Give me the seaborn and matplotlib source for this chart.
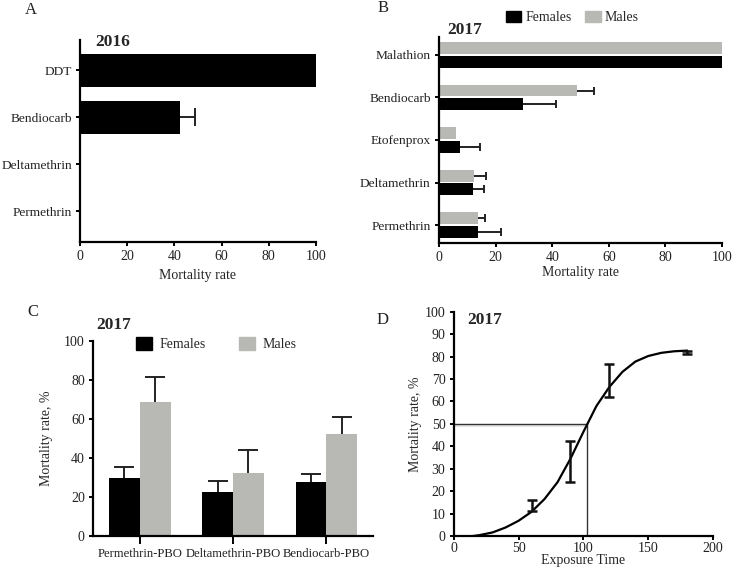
import matplotlib
matplotlib.use("Agg")
import matplotlib.pyplot as plt
import matplotlib.patches as mpatches
import numpy as np
import pandas as pd
import seaborn as sns

# ---- data ----
# A: 2016, females only
a_insect = ["DDT", "Bendiocarb", "Deltamethrin", "Permethrin"]
a_rate = [100, 42.4, 0, 0]
a_err = [0, 6.3, 0, 0]

# B: 2017 by sex
b_insect = ["Malathion", "Bendiocarb", "Etofenprox", "Deltamethrin", "Permethrin"]
b_fem = [100, 29.8, 7.4, 12.0, 13.9]
b_fem_err = [0, 11.4, 7.2, 3.8, 8.1]
b_male = [100, 48.8, 5.9, 12.2, 13.9]
b_male_err = [0, 6.0, 0, 4.4, 2.4]

# C: 2017 synergist assays
c_insect = ["Permethrin-PBO", "Deltamethrin-PBO", "Bendiocarb-PBO"]
c_fem = [29.8, 22.3, 27.7]
c_fem_err = [5.8, 5.8, 4.3]
c_male = [68.7, 32.5, 52.3]
c_male_err = [12.6, 11.5, 8.9]

# D: time-mortality curve
d_time = [15, 20, 30, 40, 50, 60, 70, 80, 90, 100, 110, 120, 130, 140, 150, 160, 170, 180]
d_fit = [0, 0.4, 1.6, 3.8, 6.8, 10.8, 16.5, 24, 34.5, 46.5, 58, 66.5, 73.2, 77.8, 80.3, 81.7, 82.4, 82.7]
d_obs_time = [60, 90, 120, 180]
d_obs_low = [11.2, 24.1, 62.1, 81.4]
d_obs_high = [16.2, 42.4, 76.9, 82.7]
lt50_time, lt50_rate = 103, 50

FEM = "#000000"
MALE = "#b8b8b5"
TXT = "#222222"

sns.set_style("ticks")
plt.rcParams["font.family"] = ["Liberation Serif", "DejaVu Serif"]
plt.rcParams["font.size"] = 10


def style_axes(ax):
    sns.despine(ax=ax)
    for s in ["left", "bottom"]:
        ax.spines[s].set_linewidth(1.6)
        ax.spines[s].set_color("black")
    ax.tick_params(width=1.4, length=3, colors="black", labelcolor=TXT, labelsize=10, pad=3)


def hbar_err(ax, val, pos, err, capsize):
    if err <= 0:
        return
    ax.hlines(pos, val, val + err, color="#222222", lw=1.4, zorder=3)
    ax.plot(val + err, pos, marker="|", ms=capsize, mew=1.4, color="#222222", zorder=3)


def vbar_err(ax, val, pos, err, capsize):
    if err <= 0:
        return
    ax.vlines(pos, val, val + err, color="#222222", lw=1.4, zorder=3)
    ax.plot(pos, val + err, marker="_", ms=capsize, mew=1.4, color="#222222", zorder=3)


fig = plt.figure(figsize=(7.33, 5.69), dpi=100)

# ---------------- panel A ----------------
axA = fig.add_axes([0.109, 0.575, 0.322, 0.355])
dfA = pd.DataFrame({"insecticide": a_insect, "rate": a_rate})
sns.barplot(data=dfA, x="rate", y="insecticide", orient="h", color=FEM, saturation=1,
            width=0.7, errorbar=None, linewidth=0, ax=axA)
for bar in axA.patches:
    c = bar.get_y() + bar.get_height() / 2
    i = int(round(c))
    hbar_err(axA, bar.get_width(), c, a_err[i], 13)
axA.set_xlim(0, 100)
axA.set_ylim(3.65, -0.65)
axA.set_xticks(range(0, 101, 20))
axA.set_xlabel("Mortality rate", fontsize=10, labelpad=4)
axA.set_ylabel("")
style_axes(axA)
axA.tick_params(axis="y", labelsize=9.6, pad=2.5)

# ---------------- panel B ----------------
axB = fig.add_axes([0.599, 0.573, 0.386, 0.362])
dfB = pd.DataFrame({
    "insecticide": b_insect * 2,
    "sex": ["Females"] * len(b_insect) + ["Males"] * len(b_insect),
    "rate": b_fem + b_male,
})
sns.barplot(data=dfB, x="rate", y="insecticide", hue="sex", order=b_insect,
            hue_order=["Males", "Females"], palette={"Females": FEM, "Males": MALE},
            orient="h", saturation=1, width=0.64, gap=0.14, errorbar=None,
            linewidth=0, legend=False, ax=axB)
for bar in axB.patches:
    c = bar.get_y() + bar.get_height() / 2
    if bar.get_height() == 0:
        continue
    i = int(round(c))
    err = b_male_err[i] if c < i else b_fem_err[i]
    hbar_err(axB, bar.get_width(), c, err, 6)
axB.set_xlim(0, 100)
axB.set_ylim(4.42, -0.42)
axB.set_xticks(range(0, 101, 20))
axB.set_xlabel("Mortality rate", fontsize=10, labelpad=1)
axB.set_ylabel("")
style_axes(axB)
axB.tick_params(axis="y", labelsize=9.6)

legend_handles = [mpatches.Patch(color=FEM, label="Females"),
                  mpatches.Patch(color=MALE, label="Males")]
fig.legend(handles=legend_handles, loc="center left", bbox_to_anchor=(0.690, 0.969),
           ncol=2, frameon=False, fontsize=10, handlelength=1.1, handleheight=0.9,
           handletextpad=0.3, columnspacing=1.0, borderpad=0, borderaxespad=0)

# ---------------- panel C ----------------
axC = fig.add_axes([0.127, 0.058, 0.382, 0.343])
dfC = pd.DataFrame({
    "insecticide": c_insect * 2,
    "sex": ["Females"] * len(c_insect) + ["Males"] * len(c_insect),
    "rate": c_fem + c_male,
})
sns.barplot(data=dfC, x="insecticide", y="rate", hue="sex", order=c_insect,
            hue_order=["Females", "Males"], palette={"Females": FEM, "Males": MALE},
            saturation=1, width=0.66, errorbar=None, linewidth=0, legend=False, ax=axC)
for bar in axC.patches:
    if bar.get_width() == 0:
        continue
    c = bar.get_x() + bar.get_width() / 2
    i = int(round(c))
    err = c_fem_err[i] if c < i else c_male_err[i]
    vbar_err(axC, bar.get_height(), c, err, 15)
axC.set_xlim(-0.5, 2.5)
axC.set_ylim(0, 100)
axC.set_yticks(range(0, 101, 20))
axC.set_xlabel("")
axC.set_ylabel("Mortality rate, %", fontsize=10, labelpad=8)
style_axes(axC)
axC.tick_params(axis="x", length=6, labelsize=9.1)
fig.legend(handles=legend_handles, loc="center left", bbox_to_anchor=(0.185, 0.395),
           ncol=2, frameon=False, fontsize=10, handlelength=1.15, handleheight=1.0,
           handletextpad=0.55, columnspacing=2.4, borderpad=0, borderaxespad=0)

# ---------------- panel D ----------------
axD = fig.add_axes([0.619, 0.058, 0.354, 0.394])
axD.fill_between([0, lt50_time], lt50_rate - 1.6, lt50_rate, color="#e6e6e6", lw=0, zorder=1)
axD.plot([0, lt50_time], [lt50_rate, lt50_rate], color="#333333", lw=1.0, zorder=2)
axD.plot([lt50_time, lt50_time], [0, lt50_rate], color="#333333", lw=1.0, zorder=2)
sns.lineplot(x=d_time, y=d_fit, color="black", lw=1.6, ax=axD, zorder=3)
low = np.array(d_obs_low)
high = np.array(d_obs_high)
axD.errorbar(d_obs_time, low, yerr=[np.zeros_like(low), high - low], fmt="none",
             ecolor="#111111", elinewidth=1.8, capsize=3.5, capthick=1.8, zorder=4)
axD.set_xlim(0, 200)
axD.set_ylim(0, 100)
axD.set_xticks(range(0, 201, 50))
axD.set_yticks(range(0, 101, 10))
axD.set_xlabel("Exposure Time", fontsize=10, labelpad=-1)
axD.set_ylabel("Mortality rate, %", fontsize=10, labelpad=2)
style_axes(axD)
axD.tick_params(axis="x", pad=1.5)

# ---------------- titles / panel letters ----------------
for x, y, s in [(0.130, 0.926, "2016"), (0.610, 0.947, "2017"),
                (0.131, 0.429, "2017"), (0.637, 0.438, "2017")]:
    fig.text(x, y, s, fontsize=12.5, fontweight="bold", va="center", ha="left")
for x, y, s in [(0.034, 0.982, "A"), (0.515, 0.986, "B"),
                (0.037, 0.452, "C"), (0.514, 0.438, "D")]:
    fig.text(x, y, s, fontsize=12, va="center", ha="left", color=TXT)

fig.savefig("out.png", dpi=100)
